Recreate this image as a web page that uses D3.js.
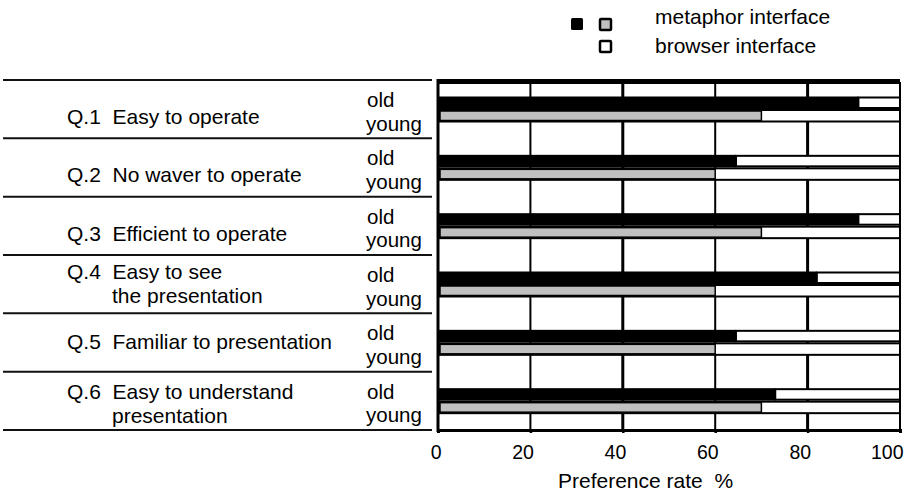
<!DOCTYPE html>
<html>
<head>
<meta charset="utf-8">
<script src="https://cdn.jsdelivr.net/npm/d3@7"></script>
<style>
  html, body { margin: 0; padding: 0; background: #fff; }
  svg text { font-family: "Liberation Sans", Arial, sans-serif; fill: #000; white-space: pre; }
</style>
</head>
<body>
<svg id="chart" width="914" height="494"></svg>
<script>
// ---- data ----
const categories = ["Q.1", "Q.2", "Q.3", "Q.4", "Q.5", "Q.6"];
const labelLine1 = ["Q.1  Easy to operate", "Q.2  No waver to operate", "Q.3  Efficient to operate",
                    "Q.4  Easy to see", "Q.5  Familiar to presentation", "Q.6  Easy to understand"];
const labelLine2 = ["", "", "", "the presentation", "", "presentation"];
const groups = ["old", "young"];
const oldValues = [91, 64.5, 91, 82, 64.5, 73];     // metaphor interface share, old users
const youngValues = [70, 60, 70, 60, 60, 70];       // metaphor interface share, young users
const xTicks = [0, 20, 40, 60, 80, 100];
const legendLabels = ["metaphor interface", "browser interface"];
const axisTitle = "Preference rate  %";

// ---- layout ----
const svg = d3.select("#chart");
const x = d3.scaleLinear().domain([0, 100]).range([438, 900]);
const y = d3.scaleBand().domain(categories).range([80, 430]).padding(0);
const y1 = d3.scaleBand().domain(groups).range([16.5, 41.5]).padding(0);
const bw = y1.bandwidth();

// left separator lines
const bounds = categories.map(c => y(c)).concat([430]);
svg.append("g").selectAll("line").data(bounds).join("line")
  .attr("x1", 3).attr("x2", 432)
  .attr("y1", d => d).attr("y2", d => d)
  .attr("stroke", "#111").attr("stroke-width", 2);

// vertical gridlines
svg.append("g").selectAll("line").data(xTicks.slice(1)).join("line")
  .attr("x1", d => x(d)).attr("x2", d => x(d))
  .attr("y1", 82).attr("y2", 430)
  .attr("stroke", "#000")
  .attr("stroke-width", d => (d === 40 || d === 80) ? 3 : 2);

// top thick border
svg.append("line").attr("x1", x(0)).attr("x2", x(100))
  .attr("y1", 81.5).attr("y2", 81.5)
  .attr("stroke", "#000").attr("stroke-width", 5);

// bars
const rows = categories.map((c, i) => ({c, old: oldValues[i], young: youngValues[i]}));
const gBars = svg.append("g");
rows.forEach(r => {
  const yo = y(r.c) + y1("old");
  const yy = y(r.c) + y1("young");
  // old: black + white remainder
  gBars.append("rect").attr("x", x(r.old)).attr("y", yo + 1).attr("width", x(100) - x(r.old)).attr("height", bw - 2)
    .attr("fill", "#fff").attr("stroke", "#000").attr("stroke-width", 2);
  gBars.append("rect").attr("x", x(0)).attr("y", yo).attr("width", x(r.old) - x(0)).attr("height", bw)
    .attr("fill", "#000");
  // young: gray + white remainder
  gBars.append("rect").attr("x", x(0) + 1).attr("y", yy + 1).attr("width", x(100) - x(0) - 1).attr("height", bw - 1)
    .attr("fill", "#fff").attr("stroke", "#000").attr("stroke-width", 2);
  gBars.append("rect").attr("x", x(0) + 2).attr("y", yy + 2).attr("width", x(r.young) - x(0) - 2).attr("height", bw - 3)
    .attr("fill", "#c0c0c0").attr("stroke", "#000").attr("stroke-width", 1.5);
});

// left axis line
svg.append("line").attr("x1", x(0)).attr("x2", x(0)).attr("y1", 79).attr("y2", 432)
  .attr("stroke", "#000").attr("stroke-width", 3);

// bottom axis
const xAxis = d3.axisBottom(x).tickValues(xTicks).tickSize(3).tickFormat(d3.format("d"));
const gx = svg.append("g").attr("transform", "translate(0,430)").call(xAxis);
gx.select(".domain").attr("stroke", "#000").attr("stroke-width", 3);
gx.selectAll(".tick line").attr("stroke", "#000").attr("stroke-width", 2.5);
gx.selectAll(".tick text")
  .attr("y", 29).attr("dy", 0).attr("x", 3)
  .attr("text-anchor", "end")
  .style("font-size", "19.5px").style("font-family", "'Liberation Sans', Arial, sans-serif").attr("fill", "#000");

svg.append("text").attr("x", 558).attr("y", 488).style("font-size", "21px").text(axisTitle);

// category labels
const line1Offset = [44, 44, 44, 24, 36, 27];
const line2Offset = [0, 0, 0, 48, 0, 51.5];
const gLab = svg.append("g").style("font-size", "21px");
categories.forEach((c, i) => {
  gLab.append("text").attr("x", 67).attr("y", y(c) + line1Offset[i]).text(labelLine1[i]);
  if (labelLine2[i]) gLab.append("text").attr("x", 112).attr("y", y(c) + line2Offset[i]).text(labelLine2[i]);
  gLab.append("text").attr("x", 367).attr("y", y(c) + 27).style("font-size", "20.5px").text(groups[0]);
  gLab.append("text").attr("x", 366).attr("y", y(c) + 50.5).style("font-size", "20.5px").text(groups[1]);
});

// legend
const lg = svg.append("g");
lg.append("rect").attr("x", 571).attr("y", 18).attr("width", 12).attr("height", 12).attr("rx", 1.5).attr("fill", "#000");
lg.append("rect").attr("x", 600).attr("y", 19).attr("width", 11).attr("height", 11).attr("rx", 1)
  .attr("fill", "#c0c0c0").attr("stroke", "#000").attr("stroke-width", 2.5);
lg.append("rect").attr("x", 600).attr("y", 41).attr("width", 11).attr("height", 11).attr("rx", 1)
  .attr("fill", "#fff").attr("stroke", "#000").attr("stroke-width", 2.5);
lg.append("text").attr("x", 655).attr("y", 24).style("font-size", "21px").text(legendLabels[0]);
lg.append("text").attr("x", 655).attr("y", 53).style("font-size", "21px").text(legendLabels[1]);
</script>
</body>
</html>
